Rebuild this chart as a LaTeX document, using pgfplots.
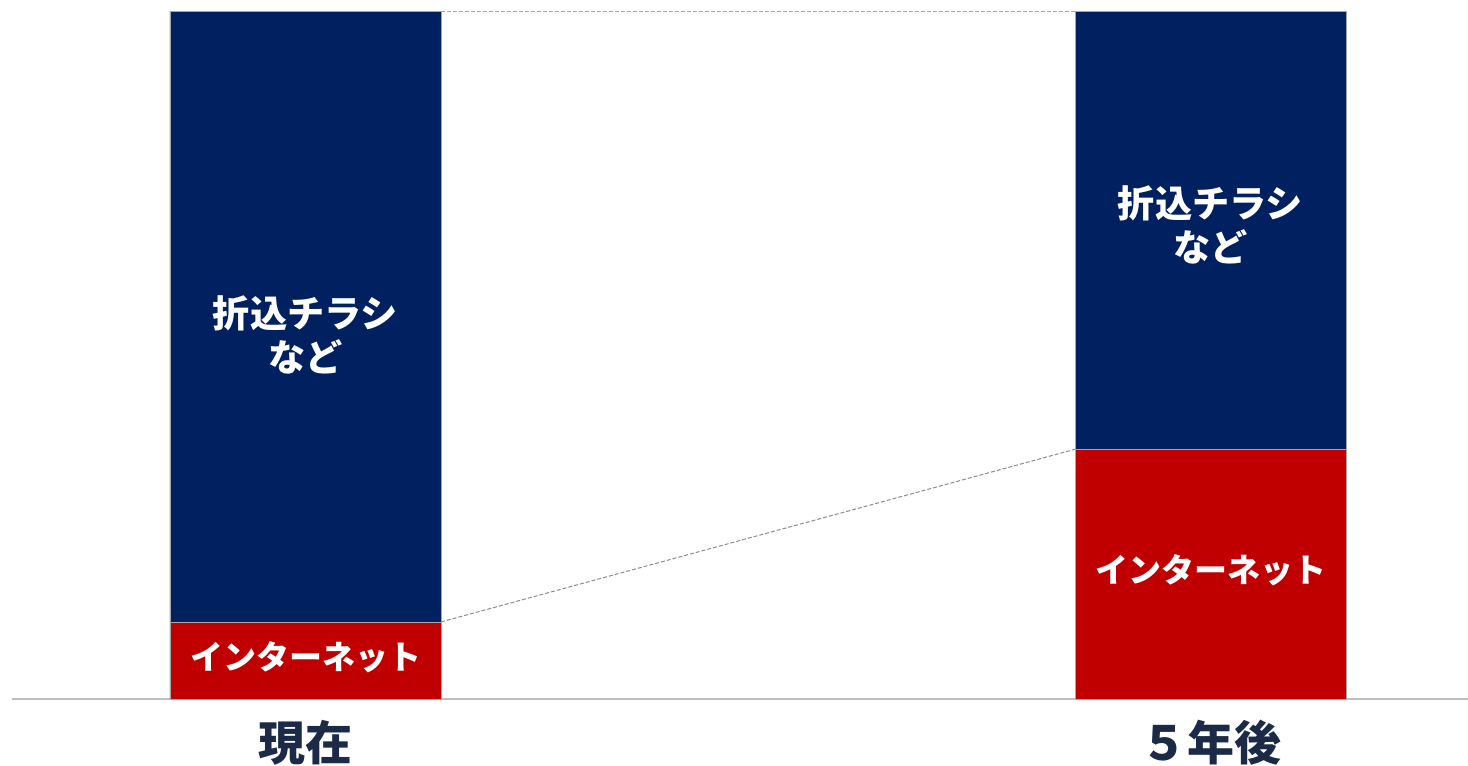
\documentclass[border=0pt]{standalone}
\usepackage{pgfplots}
\pgfplotsset{compat=1.18}
\usepackage{fontspec}
\setmainfont{Noto Sans CJK JP}
\definecolor{navy}{HTML}{002060}
\definecolor{dred}{HTML}{C00000}
\definecolor{lab}{HTML}{1B2A47}
\begin{document}
\begin{tikzpicture}
\useasboundingbox (-6pt,-33.5pt) rectangle (728pt,349.5pt);
\begin{axis}[
  at={(0,0)}, anchor=south west,
  width=728pt, height=349.5pt, scale only axis,
  xmin=-0.3243, xmax=1.2845, ymin=0, ymax=101.6,
  ybar stacked, bar width=135.5pt,
  axis x line=bottom, axis y line=none,
  x axis line style={draw=black!25, line width=0.8pt, -},
  xtick={0,1}, xticklabels={現在,５年後},
  major tick length=0pt, xtick style={draw=none},
  xticklabel style={font=\bfseries\fontsize{23.5}{28}\selectfont, text=lab, anchor=center, yshift=-22pt},
  clip=false
]
\addplot[fill=dred, draw=black!35, line width=0.4pt] coordinates {(0,11.2) (1,36.3)};
\addplot[fill=navy, draw=black!35, line width=0.4pt] coordinates {(0,88.8) (1,63.7)};
\draw[black!35, line width=0.5pt, dash pattern=on 2pt off 1pt] (axis cs:0.1497,100) -- (axis cs:0.8503,100);
\draw[black!45, line width=0.5pt, dash pattern=on 2pt off 1pt] (axis cs:0.1497,11.2) -- (axis cs:0.8503,36.3);
\coordinate (n1) at (axis cs:0,52.9);
\coordinate (n2) at (axis cs:1,68.9);
\coordinate (r1) at (axis cs:0,6.1);
\coordinate (r2) at (axis cs:1,18.75);
\end{axis}
\node[text=white, align=center, font=\bfseries\fontsize{18.6}{22}\selectfont] at (n1) {折込チラシ\\など};
\node[text=white, align=center, font=\bfseries\fontsize{18.6}{22}\selectfont] at (n2) {折込チラシ\\など};
\node[text=white, font=\bfseries\fontsize{16.5}{20}\selectfont] at (r1) {インターネット};
\node[text=white, font=\bfseries\fontsize{16.5}{20}\selectfont] at (r2) {インターネット};
\end{tikzpicture}
\end{document}
